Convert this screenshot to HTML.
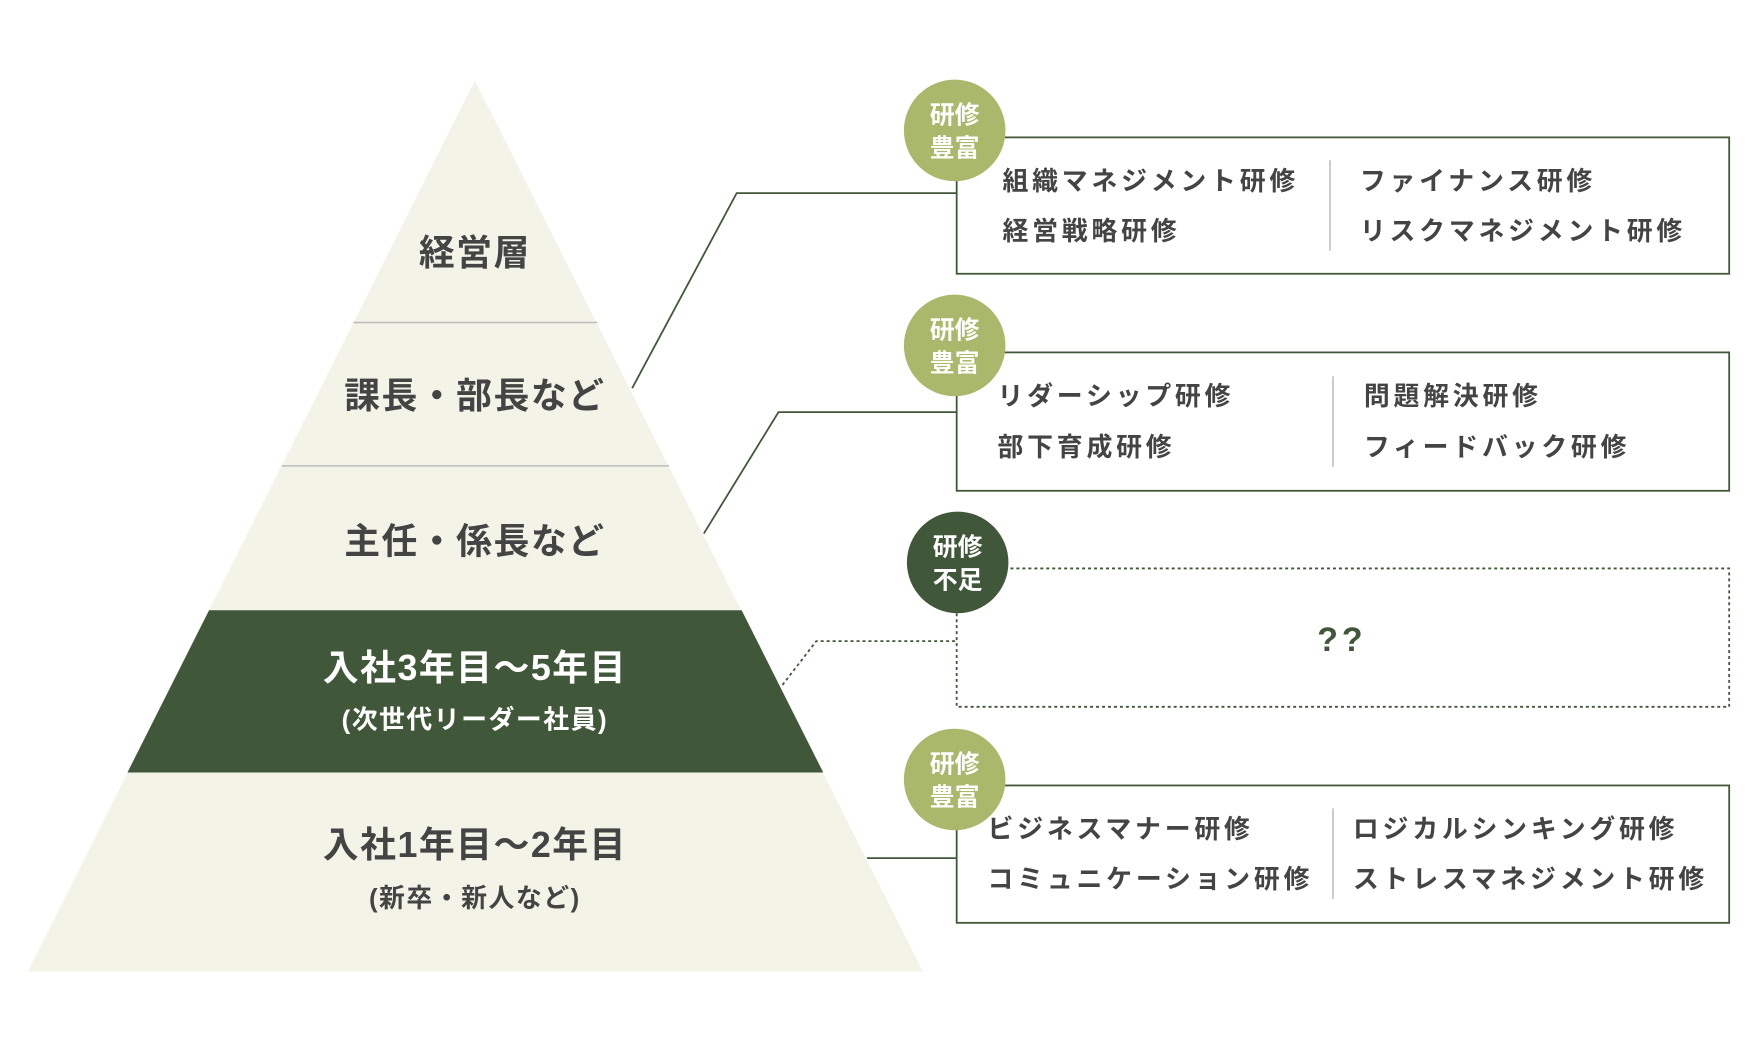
<!DOCTYPE html>
<html><head><meta charset="utf-8"><style>
html,body{margin:0;padding:0;background:#fff;}
svg{display:block;}
text{font-family:"Liberation Sans","Noto Sans CJK JP",sans-serif;font-weight:bold;}
</style></head><body>
<svg width="1760" height="1050" viewBox="0 0 1760 1050" xmlns="http://www.w3.org/2000/svg">
<g transform="scale(0.9955)">
<polygon points="477,81 927,976 28,976" fill="#f3f3e8"/>
<polygon points="210,613 745,613 827,776 128,776" fill="#41573a"/>
<line x1="355" y1="324" x2="600" y2="324" stroke="#bbb" stroke-width="1.5"/>
<line x1="283" y1="468" x2="672" y2="468" stroke="#bbb" stroke-width="1.5"/>
<g fill="#444" text-anchor="middle" letter-spacing="1.5">
<text x="477" y="266" font-size="36">経営層</text>
<text x="477" y="410" font-size="36">課長・部長など</text>
<text x="477" y="556" font-size="36">主任・係長など</text>
<text x="477" y="683" font-size="36" fill="#fff">入社3年目～5年目</text>
<text x="477" y="732" font-size="26" fill="#fff">(次世代リーダー社員)</text>
<text x="477" y="861" font-size="36">入社1年目～2年目</text>
<text x="477" y="911" font-size="26">(新卒・新人など)</text>
</g>
<g fill="none" stroke="#41573a" stroke-width="1.8">
<polyline points="635,390 740,194 961,194"/>
<polyline points="707,536 782,414 961,414"/>
<polyline points="786,688 820,644 961,644" stroke-dasharray="3,3"/>
<line x1="871" y1="862" x2="961" y2="862"/>
<rect x="961" y="138" width="776" height="137"/>
<rect x="961" y="354" width="776" height="139"/>
<rect x="961" y="571" width="776" height="139" stroke-dasharray="3,3"/>
<rect x="961" y="789" width="776" height="138"/>
</g>
<g stroke="#bbb" stroke-width="1.5">
<line x1="1336" y1="161" x2="1336" y2="252"/>
<line x1="1339" y1="378" x2="1339" y2="469"/>
<line x1="1339" y1="812" x2="1339" y2="903"/>
</g>
<g fill="#444" font-size="26" letter-spacing="3.8">
<text x="1007" y="191">組織マネジメント研修</text>
<text x="1007" y="241">経営戦略研修</text>
<text x="1366" y="191">ファイナンス研修</text>
<text x="1366" y="241">リスクマネジメント研修</text>
<text x="1002" y="407">リダーシップ研修</text>
<text x="1002" y="458">部下育成研修</text>
<text x="1370" y="407">問題解決研修</text>
<text x="1370" y="458">フィードバック研修</text>
<text x="992" y="842">ビジネスマナー研修</text>
<text x="992" y="892">コミュニケーション研修</text>
<text x="1359" y="842">ロジカルシンキング研修</text>
<text x="1359" y="892">ストレスマネジメント研修</text>
</g>
<text x="1348" y="654" font-size="34" fill="#41573a" text-anchor="middle" letter-spacing="4">??</text>
<g text-anchor="middle" font-size="25" fill="#fff">
<circle cx="959" cy="131" r="51" fill="#a9b86a"/>
<text x="959" y="124">研修</text><text x="959" y="157">豊富</text>
<circle cx="959" cy="347" r="51" fill="#a9b86a"/>
<text x="959" y="340">研修</text><text x="959" y="373">豊富</text>
<circle cx="962" cy="565" r="51" fill="#41573a"/>
<text x="962" y="558">研修</text><text x="962" y="591">不足</text>
<circle cx="959" cy="783" r="51" fill="#a9b86a"/>
<text x="959" y="776">研修</text><text x="959" y="809">豊富</text>
</g>
</g>
</svg>
</body></html>
